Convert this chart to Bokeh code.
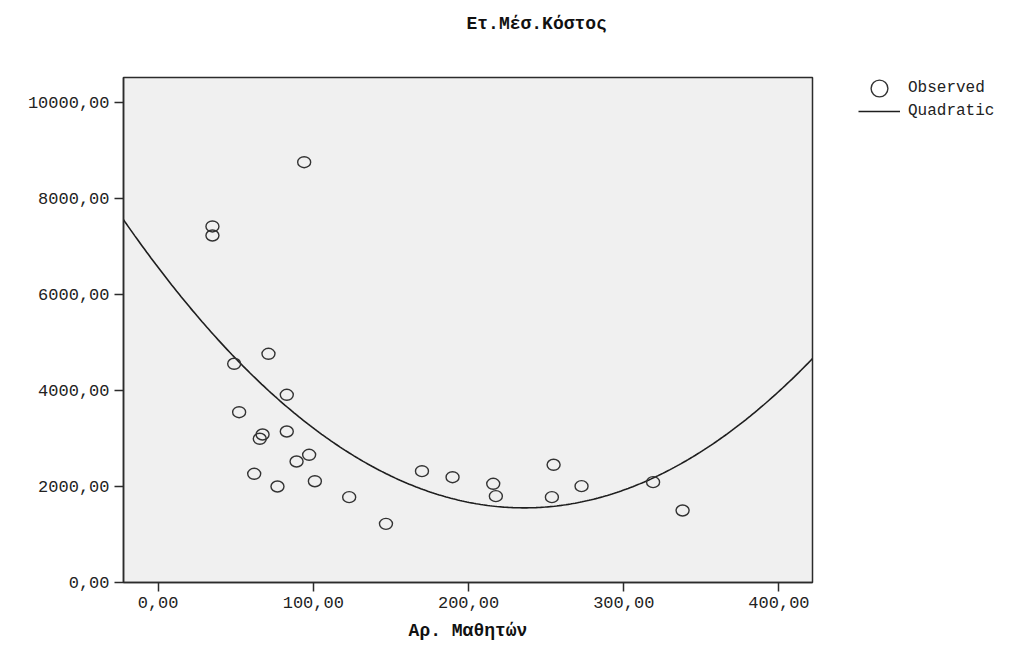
import numpy as np
from bokeh.plotting import figure
from bokeh.layouts import row
from bokeh.models import (Range1d, FixedTicker, CustomJSTickFormatter, Legend, LegendItem,
                          Title, ColumnDataSource)
from bokeh.embed import file_html
from bokeh.resources import INLINE

# ---- data ----
students = [94.1, 35.0, 35.0, 71.1, 49.0, 82.9, 52.2, 67.3, 65.5, 82.9, 97.3, 89.2, 61.9,
            76.9, 101.0, 123.1, 146.8, 170.0, 189.7, 215.9, 217.6, 254.8, 253.7, 272.8,
            318.9, 337.9]
cost = [8756, 7417, 7229, 4764, 4556, 3910, 3548, 3083, 2994, 3146, 2660, 2521, 2264,
        2000, 2110, 1778, 1222, 2319, 2194, 2056, 1799, 2452, 1778, 2007, 2090, 1500]
# quadratic model coefficients (b0 + b1*x + b2*x^2)
quad_b0, quad_b1, quad_b2 = 6564.0, -42.48, 0.09007
x_ticks = [0, 100, 200, 300, 400]
y_ticks = [0, 2000, 4000, 6000, 8000, 10000]
x_lo, x_hi = -22.3, 421.6
y_lo, y_hi = 0, 10520

FONT = "Liberation Mono"
DARK = "#2b2b2b"
PT_COLOR = "#333333"
LINE_COLOR = "#1e1e1e"

p = figure(width=822, height=646, output_backend="svg", toolbar_location=None,
           x_range=Range1d(x_lo, x_hi), y_range=Range1d(y_lo, y_hi),
           min_border_left=123, min_border_right=10, min_border_top=0, min_border_bottom=64,
           background_fill_color="#f0f0f0", border_fill_color="white")
p.outline_line_color = DARK
p.outline_line_width = 1.5
p.grid.visible = False

fmt = CustomJSTickFormatter(code="return tick.toFixed(2).replace('.', ',');")
for ax, ticks in ((p.xaxis[0], x_ticks), (p.yaxis[0], y_ticks)):
    ax.ticker = FixedTicker(ticks=ticks)
    ax.formatter = fmt
    ax.minor_tick_line_color = None
    ax.major_tick_in = 0
    ax.major_tick_out = 9
    ax.major_tick_line_color = DARK
    ax.major_tick_line_width = 1.5
    ax.axis_line_color = DARK
    ax.axis_line_width = 1.5
    ax.major_label_text_font = FONT
    ax.major_label_text_font_size = "17px"
    ax.major_label_text_color = "#222222"
    ax.major_label_standoff = 5

p.xaxis.axis_label = "Αρ. Μαθητών"
p.xaxis.axis_label_text_font = FONT
p.xaxis.axis_label_text_font_size = "18px"
p.xaxis.axis_label_text_font_style = "bold"
p.xaxis.axis_label_text_color = "#111111"
p.xaxis.axis_label_standoff = 10

# spacer between frame and title, then the title itself
p.add_layout(Title(text=" ", text_font_size="1px", standoff=26), "above")
title = Title(text="Ετ.Μέσ.Κόστος", align="left", offset=343, vertical_align="top",
              text_font=FONT, text_font_size="18px", text_font_style="bold",
              text_color="#111111", standoff=26)
p.add_layout(title, "above")

xs = np.linspace(x_lo, x_hi, 300)
ys = quad_b0 + quad_b1 * xs + quad_b2 * xs ** 2
p.line(xs, ys, line_color=LINE_COLOR, line_width=1.6)

src = ColumnDataSource(dict(x=students, y=cost))
p.ellipse("x", "y", source=src, width=13, height=11, width_units="screen",
          height_units="screen", fill_color=None, line_color=PT_COLOR, line_width=1.4)

# ---- legend panel to the right of the plot area ----
# (its proxy renderers reuse the data but lie outside this panel's visible range)
pl = figure(width=200, height=646, output_backend="svg", toolbar_location=None,
            x_range=Range1d(0, 1), y_range=Range1d(0, 1),
            min_border=0, outline_line_color=None, background_fill_color="white")
pl.axis.visible = False
pl.grid.visible = False
leg_pts = pl.scatter(students, cost, marker="circle", fill_color=None, line_color=PT_COLOR,
                     line_width=1.4)
leg_ln = pl.line(students[:2], cost[:2], line_color=LINE_COLOR, line_width=1.6)

common = dict(glyph_width=42, padding=0, margin=0, label_standoff=8, border_line_color=None,
              background_fill_alpha=0, label_text_font=FONT, label_text_font_size="16px",
              label_text_color="#222222")
leg1 = Legend(items=[LegendItem(label="Observed", renderers=[leg_pts])], location=(36, 473),
              glyph_height=42, label_height=42, **common)
leg2 = Legend(items=[LegendItem(label="Quadratic", renderers=[leg_ln])], location=(36, 461),
              glyph_height=20, label_height=20, **common)
pl.add_layout(leg1)
pl.add_layout(leg2)

layout = row(p, pl)
open("out.html", "w").write(file_html(layout, INLINE))
